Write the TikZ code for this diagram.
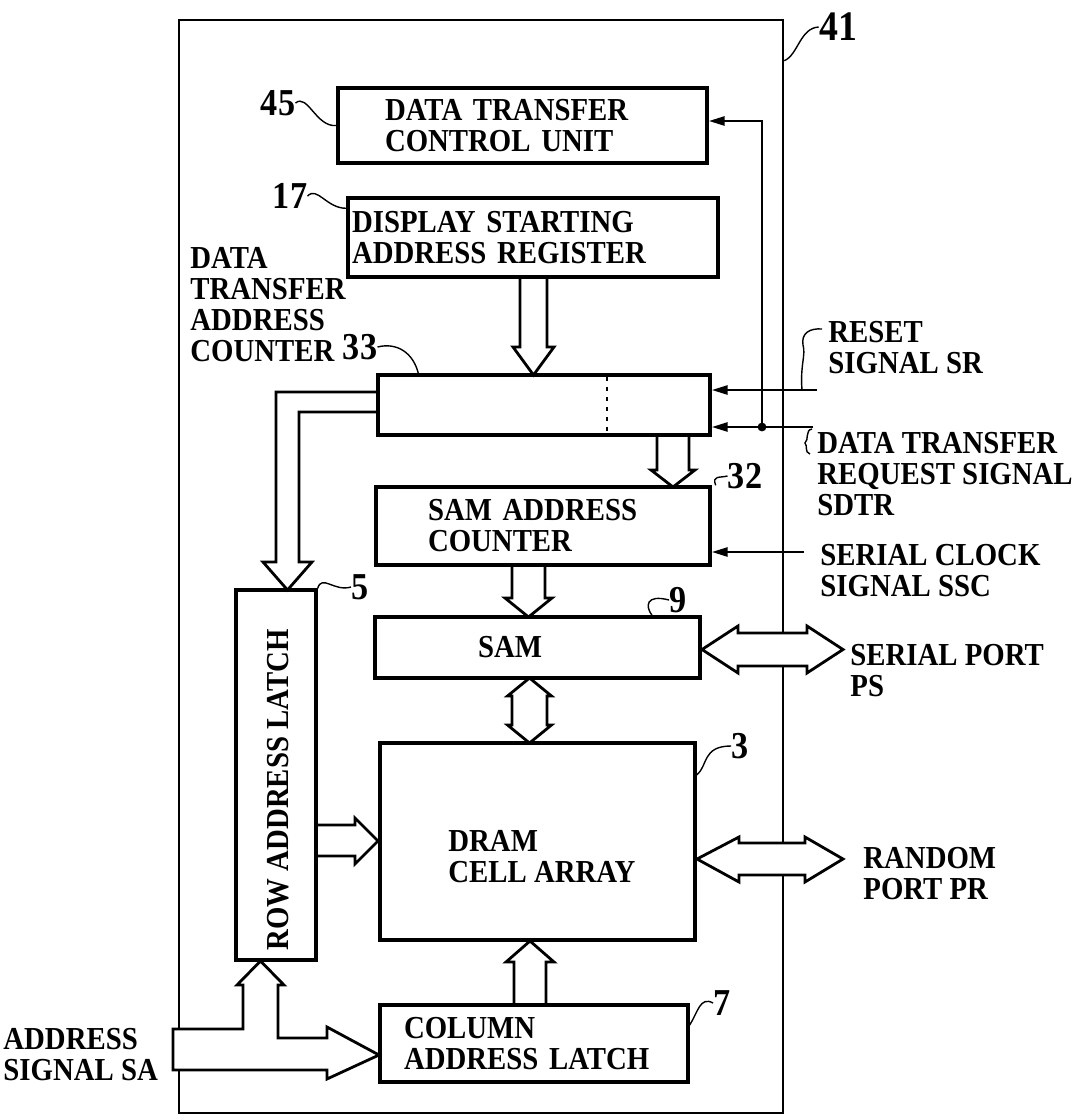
\documentclass[tikz,border=0pt]{standalone}
\usepackage{fontspec}
\setmainfont{Liberation Serif}[FakeStretch=0.9]
\usetikzlibrary{arrows.meta,positioning,calc}

\begin{document}
\begin{tikzpicture}[x=0.5pt, y=-0.5pt,
  every node/.style={font=\bfseries\fontsize{16}{15.5}\selectfont},
  box/.style={draw, line width=1.7pt, inner ysep=0pt, align=left},
  txt/.style={inner sep=0pt, align=left},
  num/.style={inner sep=0pt, font=\bfseries\fontsize{19}{19}\selectfont},
  sig/.style={line width=1.3pt, -{Triangle[length=8pt,width=4.5pt]}},
  bus/.style={line width=1.4pt, line join=miter},
  lead/.style={line width=0.7pt}]
\useasboundingbox (0,0) rectangle (1082,1120);
% chip frame 41
\node[draw, line width=1.3pt, minimum width=302pt, minimum height=546.5pt] (chip) at (481,566.5) {};
% blocks
\node[box, minimum width=184.5pt, minimum height=37.5pt, text width=137.5pt, inner xsep=23.5pt] (dtcu) at (522.5,125.5) {DATA TRANSFER\\CONTROL UNIT};
\node[box, minimum width=185pt, minimum height=39.5pt, text width=181pt, inner xsep=2pt] (dsar) at (533,237.5) {DISPLAY STARTING\\ADDRESS REGISTER};
\node[box, minimum width=166pt, minimum height=30pt] (dtac) at (544,405) {};
\draw[line width=1.4pt, dash pattern=on 2pt off 3pt] ([yshift=-2pt]dtac.north -| 607,0) -- ([yshift=2pt]dtac.south -| 607,0);
\node[box, minimum width=167pt, minimum height=39pt, text width=115pt, inner xsep=26pt] (samc) at (543,526) {SAM ADDRESS\\COUNTER};
\node[box, minimum width=162.5pt, minimum height=30.5pt, text width=59.5pt, inner xsep=51.5pt] (sam) at (537.5,647.5) {SAM};
\node[box, minimum width=157.5pt, minimum height=98.5pt] (dram) at (537.5,841.5) {};
\node[txt, anchor=west] (dramtxt) at (448,857) {DRAM\\CELL ARRAY};
\node[box, minimum width=40pt, minimum height=185pt] (ral) at (276,775) {};
\node[txt, rotate=90] (raltxt) at (278,790) {ROW ADDRESS LATCH};
\node[box, minimum width=154pt, minimum height=38.5pt, text width=130pt, inner xsep=12pt] (cal) at (534,1043.5) {COLUMN\\ADDRESS LATCH};
% outside labels
\node[txt, anchor=west] (dtaclbl) at (190,305) {DATA\\TRANSFER\\ADDRESS\\COUNTER};
\node[txt, anchor=west] (srlbl) at (828,348) {RESET\\SIGNAL SR};
\node[txt, anchor=west] (dtrlbl) at (817,474) {DATA TRANSFER\\REQUEST SIGNAL\\SDTR};
\node[txt, anchor=west] (ssclbl) at (820,571) {SERIAL CLOCK\\SIGNAL SSC};
\node[txt, anchor=west] (pslbl) at (850,671) {SERIAL PORT\\PS};
\node[txt, anchor=west] (prlbl) at (863,874) {RANDOM\\PORT PR};
\node[txt, anchor=west] (salbl) at (3,1055) {ADDRESS\\SIGNAL SA};
% reference numerals
\node[num, font=\bfseries\fontsize{21}{21}\selectfont] (n41) at (838,27) {41};
\node[num] (n45) at (278,103) {45};
\node[num] (n17) at (290,196) {17};
\node[num] (n33) at (360,347) {33};
\node[num] (n32) at (745,476) {32};
\node[num] (n5) at (360,587) {5};
\node[num] (n9) at (678,600) {9};
\node[num] (n3) at (740,746) {3};
\node[num] (n7) at (722,1003) {7};
% leader lines
\draw[lead] ([yshift=-21pt]chip.north east) .. controls (798,55) and (800,28) .. (n41.west);
\draw[lead] (n45.east) .. controls +(12,-10) and +(-20,2) .. (dtcu.west);
\draw[lead] (n17.east) .. controls +(10,-10) and +(-20,0) .. ([yshift=-6pt]dsar.north west);
\draw[lead] (n33.east) .. controls +(20,-5) and +(-5,-20) .. ([xshift=21pt]dtac.north west);
\draw[lead] (802,390) .. controls (800,365) and (806,355) .. (803,345) .. controls (801,333) and (810,328) .. (822,329);
\draw[lead] (812,429) .. controls (805,430) and (809,440) .. (805,443) .. controls (808,446) and (804,452) .. (810,454);
\draw[lead] ([xshift=2pt]samc.north east) .. controls +(-4,-10) and +(-8,2) .. (n32.west);
\draw[lead] (ral.north east) .. controls (322,574) and (334,592) .. (n5.west);
\draw[lead] (sam.north -| 652,0) .. controls (645,606) and (646,594) .. (n9.west);
\draw[lead] (dram.east |- 0,775) .. controls (708,766) and (702,746) .. (n3.west);
\draw[lead] (cal.east |- 0,1025) .. controls (698,1012) and (700,996) .. (n7.west);
% control signals
\coordinate (srin) at (817,390);
\coordinate (dtrin) at (813,427);
\coordinate (jn) at (762,427);
\coordinate (sscin) at (804,552);
\draw[sig] (srin) -- (dtac.east |- srin);
\draw[sig] (dtrin) -- (dtac.east |- dtrin);
\draw[sig] (jn) |- ([yshift=2.25pt]dtcu.east);
\fill (jn) circle (2.2pt);
\draw[sig] (sscin) -- (samc.east |- sscin);
% buses
\draw[bus] (520,277) -- (520,347) -- (513,347) -- (533.5,375) -- (554,347) -- (547,347) -- (547,277);
\draw[bus] (657,435) -- (657,470) -- (651,470) -- (673,487) -- (695,470) -- (689,470) -- (689,435);
\draw[bus] (512,565) -- (512,598) -- (505,598) -- (528.5,617) -- (552,598) -- (545,598) -- (545,565);
\draw[bus, fill=white] (529.5,678) -- (551.5,696) -- (547,696) -- (547,725) -- (551.5,725) -- (529.5,743) -- (507.5,725) -- (512,725) -- (512,696) -- (507.5,696) -- cycle;
\draw[bus, fill=white] (702,649.5) -- (738,626) -- (738,633) -- (807,633) -- (807,626) -- (843,649.5) -- (807,673) -- (807,666) -- (738,666) -- (738,673) -- cycle;
\draw[bus, fill=white] (697,859) -- (739,837) -- (739,843) -- (805,843) -- (805,837) -- (843,859) -- (805,882) -- (805,875) -- (739,875) -- (739,882) -- cycle;
\draw[bus] (378,392) -- (276,392) -- (276,562) -- (263,562) -- (287.5,590) -- (312,562) -- (299,562) -- (299,412) -- (378,412);
\draw[bus] (316,825) -- (355,825) -- (355,818) -- (378,841) -- (355,864) -- (355,856) -- (316,856);
\draw[bus] (514,1005) -- (514,962) -- (506,962) -- (530,941) -- (554,962) -- (546,962) -- (546,1005);
\draw[bus, fill=white] (173,1029) -- (243,1029) -- (243,985) -- (237,985) -- (260.5,961) -- (284,985) -- (278,985) -- (278,1038) -- (327,1038) -- (327,1027) -- (379,1055) -- (327,1079) -- (327,1070) -- (173,1070) -- cycle;
\end{tikzpicture}
\end{document}
